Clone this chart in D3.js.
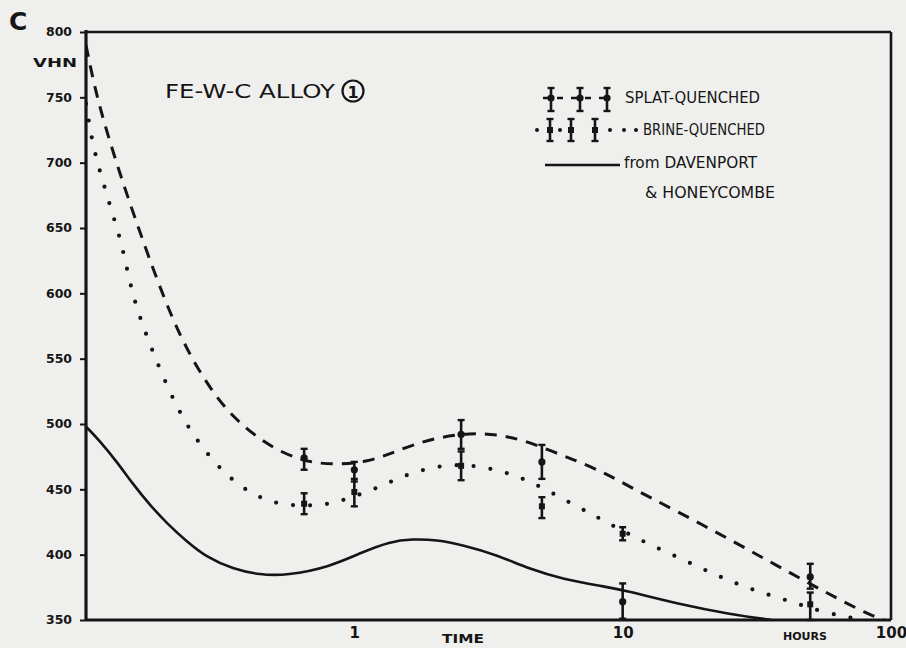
<!DOCTYPE html>
<html><head><meta charset="utf-8">
<script src="https://cdn.jsdelivr.net/npm/d3@7"></script>
<style>
html,body{margin:0;padding:0;background:#efefed;}
svg{display:block;}
text{font-family:"DejaVu Sans",sans-serif;fill:#151515;}
</style></head><body>
<svg id="c" width="906" height="648"></svg>
<script>
// ---------- data ----------
const yTicks = [800, 750, 700, 650, 600, 550, 500, 450, 400, 350];
const xTicks = [1, 10, 100];
const xTickLabels = ["1", "10", "100"];

const sampleHours = [0.65, 1, 2.5, 5, 10, 50];
const splatMean = [474, 465, 492, 471, 364, 383];
const splatLow  = [465, 456, 481, 458, 351, 374];
const splatHigh = [481, 471, 503, 484, 378, 393];
const brineMean = [439, 448, 468, 437, 416, 362];
const brineLow  = [431, 437, 457, 428, 411, 350];
const brineHigh = [447, 458, 479, 444, 421, 371];

// smooth curves [hours, VHN]
const splatCurve = [[0.1,790],[0.11,748],[0.1315,696],[0.159,646],[0.211,577],[0.272,535],[0.352,504],
  [0.497,481],[0.626,473],[0.724,470],[0.881,469],[1.11,471],[1.35,477],[1.65,484],[2.08,490],[2.69,493],
  [3.39,492],[4.23,488],[5.47,479],[6.89,471],[8.69,462],[10.6,452],[16.0,433],[24.9,412],[37.3,392],
  [57.2,371],[82.8,354],[94,350]];
const brineCurve = [[0.1,745],[0.1062,712],[0.1147,688],[0.125,662],[0.1361,638],[0.1483,600],[0.163,575],
  [0.1822,549],[0.2182,512],[0.2589,487],[0.3291,461],[0.4294,444],[0.5598,437],[0.7755,438],[0.8893,441],
  [1.19,450],[1.578,462],[2.224,470],[3.188,467],[4.377,458],[6.063,442],[8.18,428],[10.86,414],[15.3,400],
  [21.9,385],[30.3,373],[42.1,364.5],[55.3,356],[78,350]];
const davenportCurve = [[0.1,498],[0.1127,487],[0.1304,471],[0.1496,454],[0.173,438],[0.2002,424],[0.2376,410],
  [0.282,398],[0.3525,389],[0.4442,384.5],[0.5598,384],[0.8092,390.6],[1.073,402],[1.353,410],[1.648,412],
  [2.025,411.4],[2.531,407.5],[3.385,400],[4.492,389],[5.96,381.4],[8.69,375.3],[10,373],[16.25,362],
  [24.93,354.5],[36,350]];

const seriesNames = ["SPLAT-QUENCHED", "BRINE-QUENCHED", "from DAVENPORT", "& HONEYCOMBE"];
const titleText = "FE-W-C ALLOY";

// ---------- drawing ----------
const ink = "#151515";
const svg = d3.select("#c");
const L = 86, R = 891, T = 32, B = 620;
const x = d3.scaleLog().domain([0.1, 100]).range([L, R]);
const y = d3.scaleLinear().domain([350, 800]).range([B, T]);

svg.append("defs").append("clipPath").attr("id","clip")
  .append("rect").attr("x",L).attr("y",T-2).attr("width",R-L).attr("height",B-T+2);

// curves
const line = d3.line().x(d => x(d[0])).y(d => y(d[1])).curve(d3.curveBasis);
const curves = svg.append("g").attr("clip-path","url(#clip)");
curves.append("path").attr("d", line(davenportCurve)).attr("fill","none")
  .attr("stroke", ink).attr("stroke-width", 2.6);
curves.append("path").attr("d", line(splatCurve)).attr("fill","none")
  .attr("stroke", ink).attr("stroke-width", 3).attr("stroke-dasharray","12,9");
curves.append("path").attr("d", line(brineCurve)).attr("fill","none")
  .attr("stroke", ink).attr("stroke-width", 4.2).attr("stroke-linecap","round")
  .attr("stroke-dasharray","0,17");

// error bars
function errBar(g, cx, yTop, yBot, yMid, kind) {
  g.append("line").attr("x1",cx).attr("x2",cx).attr("y1",yTop).attr("y2",yBot)
    .attr("stroke",ink).attr("stroke-width",2.6);
  [yTop, yBot].forEach(yy => g.append("line").attr("x1",cx-3.5).attr("x2",cx+3.5)
    .attr("y1",yy).attr("y2",yy).attr("stroke",ink).attr("stroke-width",2.4));
  if (kind === "splat") g.append("circle").attr("cx",cx).attr("cy",yMid).attr("r",3.6).attr("fill",ink);
  else g.append("rect").attr("x",cx-3).attr("y",yMid-3).attr("width",6).attr("height",6).attr("fill",ink);
}
const eb = svg.append("g");
sampleHours.forEach((h, i) => {
  errBar(eb, x(h), y(splatHigh[i]), y(splatLow[i]), y(splatMean[i]), "splat");
  errBar(eb, x(h), y(brineHigh[i]), y(brineLow[i]), y(brineMean[i]), "brine");
});

// axes
const yAxis = svg.append("g").attr("transform",`translate(${L},0)`)
  .call(d3.axisLeft(y).tickValues(yTicks).tickSize(6).tickPadding(8).tickFormat(d3.format("d")));
yAxis.select(".domain").remove();
yAxis.selectAll(".tick line").attr("stroke",ink).attr("stroke-width",2);
yAxis.selectAll(".tick text").attr("font-size",12).attr("font-weight","bold")
  .attr("fill",ink).attr("textLength",26).attr("lengthAdjust","spacingAndGlyphs");

const xAxis = svg.append("g").attr("transform",`translate(0,${B})`)
  .call(d3.axisBottom(x).tickValues(xTicks).tickSize(0).tickPadding(7)
    .tickFormat((d,i) => xTickLabels[i]));
xAxis.select(".domain").remove();
xAxis.selectAll(".tick text").attr("font-size",15).attr("font-weight","bold").attr("fill",ink);

// frame
const frame = svg.append("g").attr("fill","none").attr("stroke",ink);
frame.append("line").attr("x1",L).attr("x2",L).attr("y1",T-2).attr("y2",B+1).attr("stroke-width",3.2);
frame.append("line").attr("x1",L).attr("x2",R).attr("y1",B).attr("y2",B).attr("stroke-width",2.8);
frame.append("line").attr("x1",L).attr("x2",R).attr("y1",T).attr("y2",T).attr("stroke-width",2.6);
frame.append("line").attr("x1",R).attr("x2",R).attr("y1",T).attr("y2",B).attr("stroke-width",2.6);

// labels
svg.append("text").attr("x",9).attr("y",30).attr("font-size",25).attr("font-weight","bold").text("C");
svg.append("text").attr("x",33).attr("y",67).attr("font-size",13).attr("font-weight","bold")
  .attr("textLength",44).attr("lengthAdjust","spacingAndGlyphs").text("VHN");
svg.append("text").attr("x",442).attr("y",643).attr("font-size",13).attr("font-weight","bold")
  .attr("textLength",42).attr("lengthAdjust","spacingAndGlyphs").text("TIME");
svg.append("text").attr("x",783).attr("y",640).attr("font-size",11).attr("font-weight","bold")
  .attr("textLength",44).attr("lengthAdjust","spacingAndGlyphs").text("HOURS");

// title
svg.append("text").attr("x",165).attr("y",98).attr("font-size",20)
  .attr("textLength",170).attr("lengthAdjust","spacingAndGlyphs").text(titleText);
svg.append("circle").attr("cx",353).attr("cy",91).attr("r",10.5).attr("fill","none")
  .attr("stroke",ink).attr("stroke-width",2.2);
svg.append("text").attr("x",353).attr("y",97.5).attr("text-anchor","middle").attr("font-size",16)
  .attr("font-weight","bold").text("1");

// legend
const lg = svg.append("g");
lg.append("line").attr("x1",543).attr("x2",613).attr("y1",98).attr("y2",98)
  .attr("stroke",ink).attr("stroke-width",2.6).attr("stroke-dasharray","6,8");
[551, 580, 607].forEach(cx => errBar(lg, cx, 88, 111, 98, "splat"));
[537, 560, 610, 624, 636].forEach(cx => lg.append("circle").attr("cx",cx).attr("cy",130).attr("r",2).attr("fill",ink));
[550, 571, 595].forEach(cx => errBar(lg, cx, 119, 141, 130, "brine"));
lg.append("line").attr("x1",545).attr("x2",620).attr("y1",165).attr("y2",165)
  .attr("stroke",ink).attr("stroke-width",2.4);

const legendPos = [[625,103,135],[643,135,122],[624,168,133],[645,198,130]];
seriesNames.forEach((s, i) => {
  lg.append("text").attr("x",legendPos[i][0]).attr("y",legendPos[i][1]).attr("font-size",16)
    .attr("textLength",legendPos[i][2]).attr("lengthAdjust","spacingAndGlyphs").text(s);
});
</script>
</body></html>
